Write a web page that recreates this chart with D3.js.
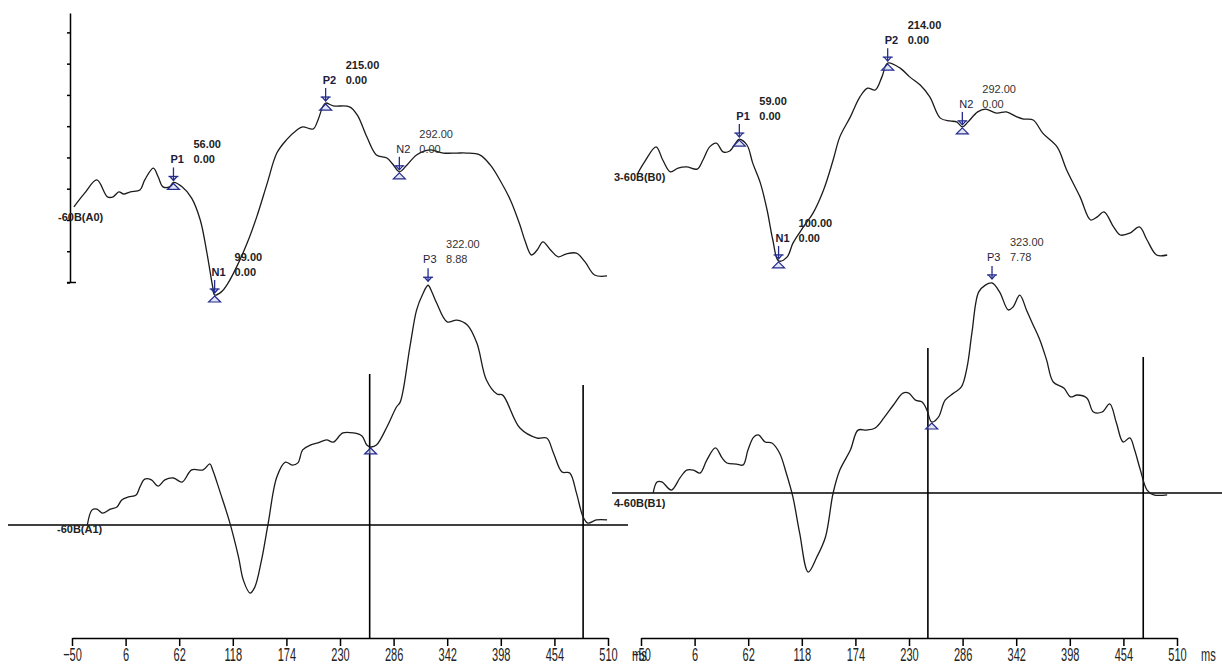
<!DOCTYPE html>
<html>
<head>
<meta charset="utf-8">
<script src="https://cdn.jsdelivr.net/npm/d3@7"></script>
<style>
  html, body { margin: 0; padding: 0; background: #fff; }
  svg { display: block; font-family: "Liberation Sans", Arial, sans-serif; }
</style>
</head>
<body>
<svg id="chart" width="1222" height="664"></svg>
<script>
// ---- Averaged waveforms, site 60B: latency (ms) and amplitude (µV) ----
// A0 / B0: early components (top traces); A1 / B1: P3 window (bottom traces)
const timeA0 = [-48,-37,-24,-13,-7,-1,4,11,21,26,35,40,45,52,56,65,75,84,91,97,99,106,113,122,133,143,154,164,174,185,191,202,207,212,215,223,240,248,258,268,279,285,292,300,310,324,338,352,362,376,387,397,408,418,423,430,436,442,450,458,466,477,486,496,509];
const ampA0  = [0.42,0.85,1.28,0.74,0.74,0.90,0.83,0.90,0.96,1.28,1.66,1.38,1.06,1.06,1.20,1.06,0.70,0.00,-1.06,-2.14,-2.40,-2.30,-2.02,-1.50,-0.74,0.10,1.18,2.14,2.56,2.88,2.98,2.91,3.20,3.62,3.74,3.65,3.62,3.36,2.66,2.08,1.98,1.79,1.54,1.76,2.08,2.24,2.14,2.14,2.14,2.08,1.76,1.28,0.64,-0.16,-0.64,-1.12,-0.96,-0.70,-0.96,-1.18,-1.09,-1.06,-1.34,-1.76,-1.79];

const timeA1 = [-34,-29,-24,-18,-10,-3,2,9,17,21,26,33,40,47,56,65,75,87,94,97,105,115,124,129,136,141,148,155,164,173,180,186,191,199,207,216,223,233,244,253,258,262,268,279,289,293,303,310,316,322,326,331,342,352,363,373,383,394,400,418,436,446,453,462,470,477,484,489,498,509];
const ampA1  = [0,0.56,0.59,0.44,0.59,0.67,0.93,1.04,1.11,1.41,1.70,1.67,1.44,1.67,1.74,1.59,2.04,2.04,2.26,2.04,1.19,0.07,-1.19,-2.04,-2.52,-2.30,-1.30,0.07,1.78,2.33,2.22,2.30,2.78,2.96,3.04,3.15,3.07,3.41,3.41,3.30,2.96,2.89,2.96,3.63,4.37,4.56,6.59,7.96,8.52,8.88,8.63,8.22,7.52,7.59,7.41,6.74,5.37,4.85,4.81,3.59,3.22,3.22,2.67,1.96,1.93,1.19,0.30,0.07,0.19,0.19];

const timeB0 = [-47,-40,-28,-21,-13,-5,4,15,21,28,35,42,49,56,59,67,73,81,88,94,100,109,115,126,136,147,157,164,175,185,193,201,208,214,227,237,248,258,269,279,286,292,298,308,316,328,338,349,356,366,376,391,401,415,426,433,440,450,457,467,477,485,495,506];
const ampB0  = [0.22,0.58,1.06,0.64,0.26,0.38,0.42,0.35,0.64,1.06,1.18,0.90,0.93,1.22,1.31,1.12,0.54,-0.10,-0.96,-1.92,-2.59,-2.46,-2.02,-1.50,-1.06,-0.32,0.64,1.38,2.02,2.66,2.94,2.88,3.30,3.74,3.58,3.30,3.04,2.66,1.98,1.89,1.86,1.70,1.86,2.18,2.27,2.14,2.18,2.02,1.95,1.92,1.50,1.06,0.32,-0.54,-1.28,-1.18,-1.02,-1.50,-1.76,-1.70,-1.50,-1.92,-2.40,-2.40];

const timeB1 = [-31,-27,-22,-12,-3,4,11,18,25,34,41,46,56,63,68,74,79,86,93,101,108,115,122,131,140,149,157,164,175,183,192,201,210,220,230,236,243,250,255,260,267,274,283,291,297,302,309,316,323,331,340,345,352,359,365,373,380,387,398,405,412,422,429,438,446,453,460,467,472,478,485,492,506];
const ampB1  = [0,0.41,0.41,0.11,0.56,0.85,0.85,0.74,1.22,1.67,1.30,1.11,1.07,1.04,1.59,2.07,2.15,1.89,1.85,1.48,0.74,-0.15,-1.48,-2.93,-2.37,-1.63,0,0.85,1.59,2.33,2.33,2.41,2.78,3.26,3.70,3.70,3.44,3.37,3.07,2.63,2.81,3.44,3.70,3.93,4.67,5.93,7.44,7.70,7.78,7.44,6.78,6.89,7.33,6.78,6.30,5.67,4.93,4.11,3.89,3.56,3.63,3.52,3.00,3.00,3.30,2.59,1.89,2.04,1.59,0.85,0.11,-0.07,-0.07];

// Peak picks on the top traces
const peakNames   = ["P1", "N1", "P2", "N2"];
const peakLatA0   = [56, 99, 215, 292];
const peakLatB0   = [59, 100, 214, 292];
const peakAmpText = ["0.00", "0.00", "0.00", "0.00"];

// P3 pick on the bottom traces
const p3Lat = { A1: 322, B1: 323 };
const p3Amp = { A1: 8.88, B1: 7.78 };
// Trough before P3 and measurement window cursors (ms)
const troughLat = { A1: 262, B1: 260 };
const cursorsA1 = [261, 484];
const cursorsB1 = [256, 481];

// Axis ticks
const timeTicks = d3.range(-50, 511, 56);
const ampTicksTop = d3.range(-2, 7, 1);
const timeUnit = "ms";

const traceLabels = { A0: "-60B(A0)", A1: "-60B(A1)", B0: "3-60B(B0)", B1: "4-60B(B1)" };

// ---------------------------------------------------------------------
const svg = d3.select("#chart");
const INK = "#1b1b1b";
const MARK = "#242c8e";
const AXIS_Y = 638;

// time -> x (left and right panels); the right panel's ruler sits a few px right of its trace
const xA = d3.scaleLinear().domain([-50, 510]).range([72, 608]);
const xB = d3.scaleLinear().domain([-50, 510]).range([635, 1171]);
const xRulerA = d3.scaleLinear().domain([-50, 510]).range([72, 608]);
const xRulerB = d3.scaleLinear().domain([-50, 510]).range([641, 1177]);

// amplitude -> y
const yA0 = d3.scaleLinear().domain([-2, 6.62]).range([282.5, 13]);
const yB0 = d3.scaleLinear().domain([0, 1]).range([180, 148.75]);
const yA1 = d3.scaleLinear().domain([0, 1]).range([525, 498]);
const yB1 = d3.scaleLinear().domain([0, 1]).range([493, 466]);

function series(t, v) { return t.map((d, i) => [d, v[i]]); }
function valueAt(t, v, lat) {
  const i = t.indexOf(lat);
  if (i >= 0) return v[i];
  const j = d3.bisectLeft(t, lat);
  const f = (lat - t[j - 1]) / (t[j] - t[j - 1]);
  return v[j - 1] + f * (v[j] - v[j - 1]);
}

// ---- zero lines of the bottom traces ----
svg.append("line").attr("x1", 8).attr("x2", 628)
  .attr("y1", yA1(0)).attr("y2", yA1(0))
  .attr("stroke", "#000").attr("stroke-width", 1.6);
svg.append("line").attr("x1", 612).attr("x2", 1222)
  .attr("y1", yB1(0)).attr("y2", yB1(0))
  .attr("stroke", "#000").attr("stroke-width", 1.6);

// ---- window cursors ----
const cursorTopA = [374, 385];
const cursorTopB = [348, 357];
cursorsA1.forEach((c, i) => {
  svg.append("line").attr("x1", xA(c)).attr("x2", xA(c))
    .attr("y1", cursorTopA[i]).attr("y2", AXIS_Y)
    .attr("stroke", "#000").attr("stroke-width", 1.6);
});
cursorsB1.forEach((c, i) => {
  svg.append("line").attr("x1", xB(c)).attr("x2", xB(c))
    .attr("y1", cursorTopB[i]).attr("y2", AXIS_Y)
    .attr("stroke", "#000").attr("stroke-width", 1.6);
});

// ---- amplitude ruler of the top-left trace ----
const yAxisG = svg.append("g").attr("transform", "translate(70,0)")
  .call(d3.axisLeft(yA0).tickValues(ampTicksTop).tickSize(3).tickSizeOuter(0).tickFormat(""));
yAxisG.selectAll("path,line").attr("stroke", "#000").attr("stroke-width", 1.5);
svg.append("line").attr("x1", 67).attr("x2", 76)
  .attr("y1", yA0(-2)).attr("y2", yA0(-2))
  .attr("stroke", "#000").attr("stroke-width", 1.5);

// ---- time rulers (labels drawn tall and narrow) ----
function timeAxis(scale) {
  const g = svg.append("g").attr("transform", `translate(0,${AXIS_Y})`)
    .call(d3.axisBottom(scale).tickValues(timeTicks).tickSize(8).tickSizeOuter(0));
  g.selectAll("path,line").attr("stroke", "#000").attr("stroke-width", 1.5);
  g.select(".domain").attr("stroke-width", 1.6);
  g.selectAll("text")
    .attr("y", 0).attr("dy", 0)
    .attr("transform", "translate(0,23) scale(0.92,1.6)")
    .attr("fill", "#222")
    .style("font-size", "12px");
  const ux = scale(510) + 24;
  svg.append("text")
    .attr("transform", `translate(${ux},${AXIS_Y + 23}) scale(0.92,1.6)`)
    .attr("fill", "#222")
    .style("font-size", "12px")
    .text(timeUnit);
}
timeAxis(xRulerA);
timeAxis(xRulerB);

// ---- waveforms ----
const lineGen = (x, y) => d3.line()
  .x(d => x(d[0])).y(d => y(d[1]))
  .curve(d3.curveCatmullRom.alpha(0.5));

const traces = [
  { t: timeA0, v: ampA0, x: xA, y: yA0 },
  { t: timeA1, v: ampA1, x: xA, y: yA1 },
  { t: timeB0, v: ampB0, x: xB, y: yB0 },
  { t: timeB1, v: ampB1, x: xB, y: yB1 }
];
traces.forEach(tr => {
  svg.append("path")
    .datum(series(tr.t, tr.v))
    .attr("d", lineGen(tr.x, tr.y))
    .attr("fill", "none")
    .attr("stroke", INK)
    .attr("stroke-width", 1.3)
    .attr("stroke-linejoin", "round");
});

// ---- trace names ----
function traceName(txt, x, y) {
  svg.append("text").attr("x", x).attr("y", y)
    .attr("fill", "#222").style("font-size", "11px").style("font-weight", "bold")
    .text(txt);
}
traceName(traceLabels.A0, 58, yA0(0) + 1);
traceName(traceLabels.A1, 57, yA1(0) + 8);
traceName(traceLabels.B0, 614, yB0(0) + 1);
traceName(traceLabels.B1, 614, yB1(0) + 14);

// ---- peak markers ----
function arrow(cx, cy) {
  const g = svg.append("g").attr("stroke", MARK).attr("stroke-width", 1.3).attr("fill", "none");
  g.append("line").attr("x1", cx).attr("x2", cx).attr("y1", cy - 15).attr("y2", cy - 2);
  g.append("line").attr("x1", cx - 5).attr("x2", cx + 5).attr("y1", cy - 6).attr("y2", cy - 6);
  g.append("path").attr("d", `M${cx - 3.5},${cy - 6}L${cx},${cy - 2}L${cx + 3.5},${cy - 6}`);
}
function triangle(cx, cy) {
  svg.append("path")
    .attr("d", `M${cx},${cy + 1}L${cx + 6},${cy + 7}L${cx - 6},${cy + 7}Z`)
    .attr("fill", "#c9cbe6").attr("fill-opacity", 0.5)
    .attr("stroke", MARK).attr("stroke-width", 1.2);
}
function peakLabel(cx, cy, name, lat, ampTxt, bold) {
  const w = bold ? "bold" : "normal";
  const col = bold ? "#222" : "#333";
  svg.append("text").attr("x", cx - 3).attr("y", cy - 19)
    .attr("fill", "#1c1c3c").style("font-size", "11px").style("font-weight", w).text(name);
  svg.append("text").attr("x", cx + 20).attr("y", cy - 34)
    .attr("fill", col).style("font-size", "11px").style("font-weight", w).text(lat.toFixed(2));
  svg.append("text").attr("x", cx + 20).attr("y", cy - 19)
    .attr("fill", col).style("font-size", "11px").style("font-weight", w).text(ampTxt);
}

function topPeaks(t, v, lats, x, y) {
  lats.forEach((lat, i) => {
    const cx = x(lat), cy = y(valueAt(t, v, lat));
    arrow(cx, cy);
    triangle(cx, cy);
    peakLabel(cx, cy, peakNames[i], lat, peakAmpText[i], i < 3);
  });
}
topPeaks(timeA0, ampA0, peakLatA0, xA, yA0);
topPeaks(timeB0, ampB0, peakLatB0, xB, yB0);

function p3Peak(key, t, v, x, y) {
  const lat = p3Lat[key];
  const cx = x(lat), cy = y(p3Amp[key]);
  arrow(cx, cy - 2);
  peakLabel(cx - 2, cy - 3, "P3", lat, p3Amp[key].toFixed(2), false);
  const tl = troughLat[key];
  triangle(x(tl), y(valueAt(t, v, tl)));
}
p3Peak("A1", timeA1, ampA1, xA, yA1);
p3Peak("B1", timeB1, ampB1, xB, yB1);
</script>
</body>
</html>
